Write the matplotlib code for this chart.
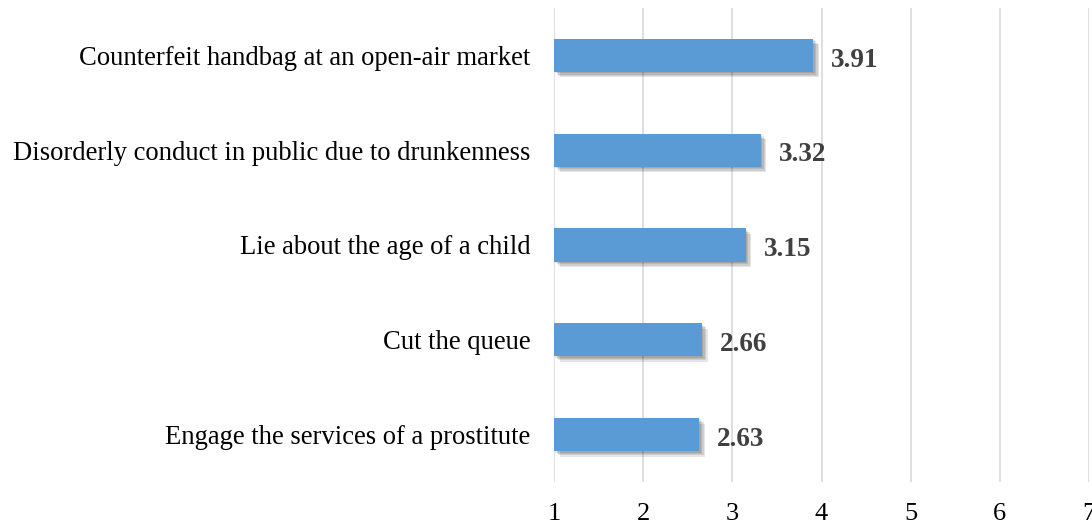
import matplotlib
matplotlib.use('Agg')

import matplotlib.pyplot as plt
import matplotlib.patheffects as pe
import numpy as np

# mean ratings, top to bottom
behaviours = ["Counterfeit handbag at an open-air market",
              "Disorderly conduct in public due to drunkenness",
              "Lie about the age of a child",
              "Cut the queue",
              "Engage the services of a prostitute"]
scores = [3.91, 3.32, 3.15, 2.66, 2.63]
xticks = [1, 2, 3, 4, 5, 6, 7]

plt.rcParams['font.family'] = ['Liberation Serif', 'DejaVu Serif']

fig = plt.figure(figsize=(10.92, 5.25), dpi=100)
ax = fig.add_axes([0.5073, 0.082, 0.4900, 0.903])

pos = np.arange(len(behaviours))
# soft drop shadow built from a few offset translucent layers
shadow = [pe.SimplePatchShadow(offset=(dx, -dx), shadow_rgbFace='black', alpha=0.1)
          for dx in (1.0, 2.0, 3.0, 4.0)]
bars = ax.barh(pos, np.array(scores) - 1, left=1, height=0.35, color='#5B9BD5',
               zorder=3, path_effects=shadow + [pe.Normal()])

for p, v in zip(pos, scores):
    ax.text(v + 0.2, p + 0.05, '%.2f' % v, va='center', ha='left',
            fontsize=19.5, fontweight='bold', color='#404040', zorder=4)

ax.set_xlim(1, 7)
ax.set_ylim(len(behaviours) - 0.5, -0.5)
ax.set_xticks(xticks)
ax.set_yticks(pos)
ax.set_yticklabels(behaviours, fontsize=19.2, color='#000000')
ax.tick_params(axis='x', labelsize=19, length=0, pad=15)
ax.tick_params(axis='y', length=0, pad=17)
ax.xaxis.grid(True, color='#D9D9D9', linewidth=1.2, zorder=0)
ax.set_axisbelow(True)
for s in ax.spines.values():
    s.set_visible(False)

plt.savefig('out.png', dpi=100)
